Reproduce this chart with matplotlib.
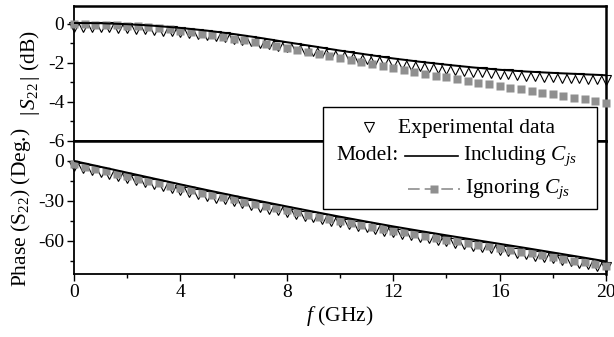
import numpy as np
import matplotlib
matplotlib.use("Agg")
import matplotlib.pyplot as plt
from matplotlib.patches import Rectangle
from matplotlib.lines import Line2D

plt.rcParams['font.family'] = ['Liberation Serif', 'DejaVu Serif']
plt.rcParams['mathtext.fontset'] = 'custom'
plt.rcParams['mathtext.rm'] = 'Liberation Serif'
plt.rcParams['mathtext.it'] = 'Liberation Serif:italic'

# frequency grids (GHz)
f_model = np.linspace(0, 20, 21)     # model curve "Including Cjs"
f_ignore = np.linspace(0, 20, 51)    # model curve "Ignoring Cjs" (square markers)
f_exp = np.linspace(0, 20, 61)       # measured points

# |S22| (dB)
mag_incl = [0.03, 0.02, -0.03, -0.11, -0.22, -0.36, -0.53, -0.73, -0.95, -1.16,
            -1.38, -1.58, -1.78, -1.95, -2.10, -2.24, -2.36, -2.45, -2.52, -2.58, -2.64]
mag_ignore = [-0.04, -0.04, -0.05, -0.06, -0.08, -0.10, -0.14, -0.18, -0.23, -0.30,
              -0.38, -0.45, -0.52, -0.60, -0.68, -0.77, -0.86, -0.95, -1.05, -1.14,
              -1.24, -1.34, -1.45, -1.55, -1.66, -1.76, -1.86, -1.96, -2.06, -2.16,
              -2.28, -2.37, -2.47, -2.56, -2.66, -2.75, -2.84, -2.93, -3.02, -3.10,
              -3.19, -3.27, -3.36, -3.44, -3.53, -3.61, -3.69, -3.78, -3.86, -3.95, -4.05]
mag_exp = [-0.17, -0.17, -0.18, -0.18, -0.19, -0.21, -0.23, -0.26, -0.29, -0.32,
           -0.36, -0.40, -0.44, -0.49, -0.54, -0.59, -0.65, -0.71, -0.77, -0.84,
           -0.91, -0.98, -1.05, -1.12, -1.19, -1.26, -1.33, -1.40, -1.47, -1.54,
           -1.61, -1.67, -1.74, -1.80, -1.87, -1.93, -1.99, -2.05, -2.10, -2.16,
           -2.21, -2.26, -2.31, -2.36, -2.40, -2.45, -2.49, -2.53, -2.57, -2.60,
           -2.63, -2.66, -2.69, -2.71, -2.74, -2.76, -2.78, -2.80, -2.82, -2.84, -2.86]

# Phase(S22) (deg)
ph_incl = [0, -4.4, -8.8, -13.2, -17.6, -21.9, -26.1, -30.2, -34.2, -38.1, -41.9,
           -45.6, -49.2, -52.6, -55.9, -59.1, -62.3, -65.5, -68.8, -72.1, -75.5]
ph_ignore = [-2.5, -4.3, -6.1, -7.8, -9.6, -11.4, -13.2, -15.0, -16.7, -18.5,
             -20.3, -22.0, -23.8, -25.5, -27.2, -28.9, -30.6, -32.2, -33.9, -35.5,
             -37.1, -38.7, -40.3, -41.8, -43.4, -44.9, -46.4, -47.9, -49.4, -50.8,
             -52.3, -53.7, -55.1, -56.4, -57.8, -59.1, -60.4, -61.7, -63.0, -64.3,
             -65.6, -66.9, -68.2, -69.5, -70.9, -72.2, -73.5, -74.9, -76.2, -77.6, -79.0]
ph_exp = [-4.0, -5.5, -7.0, -8.4, -9.9, -11.4, -12.9, -14.3, -15.8, -17.3,
          -18.8, -20.2, -21.7, -23.2, -24.6, -26.1, -27.5, -28.9, -30.3, -31.7,
          -33.0, -34.4, -35.8, -37.1, -38.4, -39.7, -41.1, -42.4, -43.6, -44.9,
          -46.2, -47.4, -48.7, -49.9, -51.1, -52.4, -53.6, -54.7, -55.8, -57.0,
          -58.1, -59.2, -60.3, -61.4, -62.5, -63.6, -64.6, -65.7, -66.8, -67.9,
          -68.9, -70.0, -71.1, -72.2, -73.3, -74.5, -75.6, -76.7, -77.8, -79.0, -80.1]

W, H = 614, 337
fig = plt.figure(figsize=(W / 100, H / 100), dpi=100)
ax1 = fig.add_axes([74 / W, 1 - 141 / H, 532 / W, 135 / H])
ax2 = fig.add_axes([74 / W, 1 - 274 / H, 532 / W, 133 / H])

gray = '#8f8f8f'
for ax, fe, ye, fi, yi, fm, ym in [(ax1, f_exp, mag_exp, f_ignore, mag_ignore, f_model, mag_incl),
                                   (ax2, f_exp, ph_exp, f_ignore, ph_ignore, f_model, ph_incl)]:
    ax.plot(fe, ye, linestyle='none', marker='v', ms=6.5, mfc='white', mec='black',
            mew=0.8, zorder=2, clip_on=False)
    ax.plot(fi, yi, linestyle='none', marker='s', ms=5.4, mfc=gray,
            mec='none', zorder=3, clip_on=False)
    ax.plot(fm, ym, color='black', lw=1.4, zorder=4)
    ax.set_xlim(0, 20)
    for s in ax.spines.values():
        s.set_linewidth(1.3)
    ax.tick_params(direction='out', labelsize=14, length=5, width=1, pad=2)
    ax.tick_params(which='minor', direction='out', length=3, width=1)

ax1.set_ylim(-6, 0.9)
ax1.set_yticks([0, -2, -4, -6])
ax1.set_yticklabels(['0', '-2', '-4', '-6'])
ax1.set_yticks([-1, -3, -5], minor=True)
ax1.tick_params(axis='x', which='both', bottom=False, labelbottom=False)
ax1.set_ylabel(r'$|\,S_{\rm 22}\,|$ (dB)', fontsize=15.5, labelpad=4)
ax1.spines['top'].set_linewidth(1.8)
ax1.spines['right'].set_linewidth(1.8)

ax2.set_ylim(-85, 15)
ax2.set_yticks([0, -30, -60])
ax2.set_yticklabels(['0', '-30', '-60'])
ax2.set_yticks([-15, -45, -75], minor=True)
ax2.set_xticks([0, 4, 8, 12, 16, 20])
ax2.set_xticks([2, 6, 10, 14, 18], minor=True)
ax2.spines['top'].set_linewidth(1.8)
ax2.spines['right'].set_linewidth(1.8)
ax2.set_ylabel(r'Phase (S$_{\rm 22}$) (Deg.)', fontsize=15.5, labelpad=4)
ax2.set_xlabel(r'$f$ (GHz)', fontsize=15.5, labelpad=2)


def px(x, y):
    return x / W, 1 - y / H


tf = fig.transFigure
fs = 15.5
fig.add_artist(Rectangle(px(323, 209), 274 / W, 102 / H, transform=tf, fc='white',
                         ec='black', lw=1, zorder=10))
fig.add_artist(Line2D([px(369, 0)[0]], [px(0, 127)[1]], transform=tf, marker='v', ms=7,
                      mfc='white', mec='black', mew=0.8, zorder=11))
fig.text(*px(398, 129), 'Experimental data', fontsize=fs, va='center', zorder=11)
fig.text(*px(399, 156), 'Model:', fontsize=fs, va='center', ha='right', zorder=11)
fig.add_artist(Line2D([px(405, 0)[0], px(458, 0)[0]], [px(0, 156)[1]] * 2, transform=tf,
                      color='black', lw=1.2, zorder=11))
fig.text(*px(463, 156), r'Including $C_{js}$', fontsize=fs, va='center', zorder=11)
fig.add_artist(Line2D([px(408, 0)[0], px(460, 0)[0]], [px(0, 189)[1]] * 2, transform=tf,
                      color=gray, lw=1.2, ls='--', dashes=(7, 3), zorder=11))
fig.add_artist(Line2D([px(434, 0)[0]], [px(0, 189)[1]], transform=tf, marker='s', ms=5.4,
                      mfc=gray, mec='none', zorder=12))
fig.text(*px(465, 189), r'Ignoring $C_{js}$', fontsize=fs, va='center', zorder=11)

fig.savefig('out.png', dpi=100)
